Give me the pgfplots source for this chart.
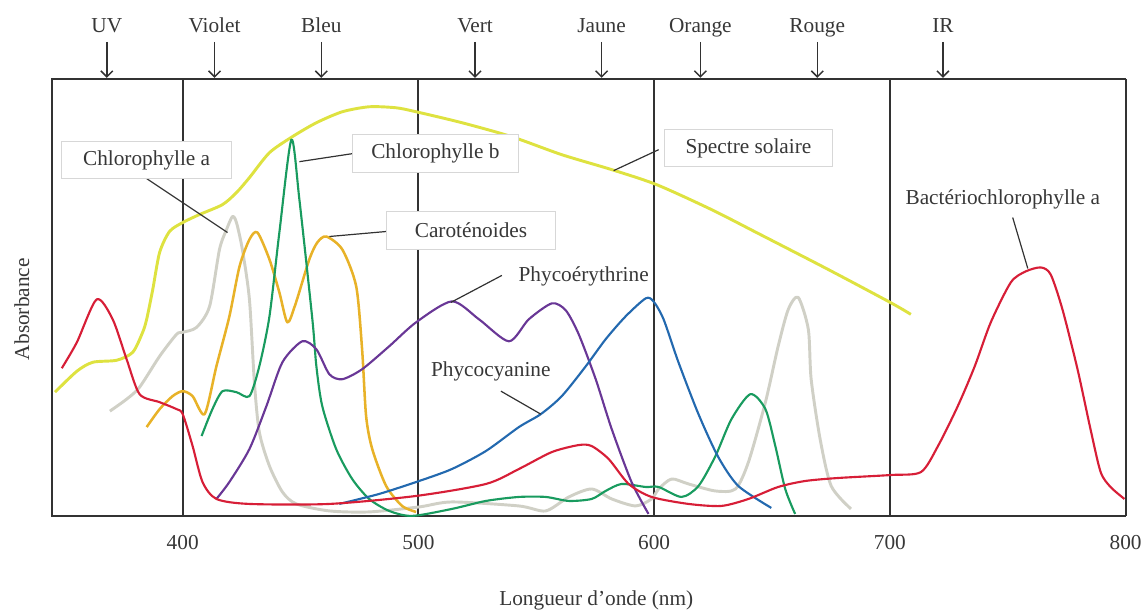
\documentclass[border=0pt]{standalone}
\usepackage{pgfplots}
\pgfplotsset{compat=1.18}
\usetikzlibrary{arrows.meta}
\usepackage{fontspec}
\setmainfont{Liberation Serif}

\definecolor{redc}{RGB}{215,30,55}
\definecolor{sunc}{RGB}{222,226,64}
\definecolor{chlac}{RGB}{208,208,198}
\definecolor{carc}{RGB}{232,178,40}
\definecolor{chlbc}{RGB}{25,155,95}
\definecolor{purc}{RGB}{105,55,150}
\definecolor{bluc}{RGB}{35,105,175}
\definecolor{txt}{RGB}{55,55,55}
\definecolor{frame}{RGB}{50,50,50}
\definecolor{boxc}{RGB}{215,215,215}

\begin{document}
\begin{tikzpicture}[font=\fontsize{16}{19}\selectfont]
\begin{axis}[
    scale only axis, width=807pt, height=328.5pt,
    xmin=344.5, xmax=800, ymin=0, ymax=438,
    xtick={400,500,600,700,800}, ytick=\empty,
    major tick length=0pt,
    xmajorgrids, grid style={frame, line width=1.5pt},
    axis line style={frame, line width=1.3pt},
    /pgf/number format/assume math mode=true,
    xticklabel style={anchor=center, yshift=-20pt, text=txt},
    xlabel={Longueur d'onde (nm)}, ylabel={Absorbance},
    xlabel style={at={(axis description cs:0.507,-0.194)}, anchor=center, text=txt},
    ylabel style={at={(axis description cs:-0.028,0.473)}, anchor=center, text=txt},
    clip=false,
    every axis plot/.append style={smooth, tension=0.45, line join=round},
]
% invisible frame of the whole picture
\path (rel axis cs:-0.04833,-0.21918) rectangle (rel axis cs:1.01673,1.18037);

% Spectre solaire
\addplot[sunc, line width=2.2pt] coordinates {
(345.8,124) (355.1,145) (361.9,154) (372.0,156) (378.8,164) (383.0,184)
(384.7,197) (387.3,227) (390.2,264) (394.4,285) (400.0,294) (407.1,302)
(416.9,312) (422.8,324) (428.3,339) (436.8,364) (446.5,380) (456.7,394)
(467.7,405) (479.1,410) (490.5,409) (499.0,405) (518.5,394) (539.6,380)
(560.8,362) (582.0,347) (601.0,332) (624.3,307) (644.2,283) (673.8,247)
(700.1,214) (708.9,202)};

% Chlorophylle a
\addplot[chlac, line width=2.2pt] coordinates {
(369.1,105) (376.2,117) (381.7,129) (390.2,160) (397.4,182) (400.0,184)
(405.9,189) (411.4,210) (415.6,267) (418.6,287) (421.1,300) (422.8,294)
(425.3,267) (428.3,217) (430.4,134) (432.5,84) (436.8,50) (442.3,24)
(448.2,12) (462.2,5) (479.1,4) (500.3,9) (514.2,14) (542.6,10) (554.0,5)
(563.8,19) (573.5,27) (582.0,17) (592.1,10) (598.9,17) (601.9,27)
(607.4,37) (614.6,32) (626.0,25) (634.5,27) (640.0,54) (647.2,114)
(652.6,170) (656.9,207) (661.1,219) (665.4,187) (666.6,137) (670.4,77)
(675.1,30) (683.5,7)};

% Carotenoides
\addplot[carc, line width=1.9pt] coordinates {
(384.7,89) (390.2,107) (395.7,120) (400.0,125) (404.2,120) (409.3,102)
(414.3,150) (419.8,200) (424.1,250) (428.3,277) (431.7,284) (436.8,257)
(441.0,224) (444.4,194) (447.8,212) (453.7,257) (457.1,274) (460.9,280)
(467.7,267) (473.6,230) (476.1,167) (477.8,100) (480.4,67) (486.3,30)
(493.1,10) (499.0,4)};

% Chlorophylle b
\addplot[chlbc, line width=1.6pt] coordinates {
(408.0,80) (412.6,107) (416.9,125) (422.8,124) (428.3,120) (432.5,150)
(436.8,200) (441.0,284) (446.1,377) (449.5,317) (455.0,197) (456.7,150)
(459.2,110) (465.1,67) (471.9,37) (479.1,17) (487.6,5) (497.3,0)
(514.2,7) (528.6,15) (542.6,19) (554.0,19) (563.8,15) (573.5,17)
(579.4,25) (586.2,32) (596.4,29) (601.9,29) (611.6,19) (618.8,30)
(626.0,60) (632.8,97) (640.8,122) (647.2,107) (651.4,70) (655.6,27)
(659.8,2)};

% Phycoerythrine
\addplot[purc, line width=1.6pt] coordinates {
(414.3,17) (419.8,34) (428.3,67) (435.5,110) (442.3,154) (450.7,175)
(456.7,167) (462.2,142) (467.7,137) (476.1,147) (487.6,170) (499.0,194)
(514.2,215) (525.7,197) (538.4,175) (546.8,197) (556.6,213) (562.5,206)
(568.0,182) (575.2,137) (582.0,87) (590.4,34) (597.6,2)};

% Phycocyanine
\addplot[bluc, line width=1.6pt] coordinates {
(466.4,12) (483.3,22) (500.3,35) (514.2,47) (528.6,65) (542.6,89)
(551.9,102) (560.8,120) (571.0,150) (579.4,177) (587.9,200) (596.4,218)
(599.7,215) (604.0,197) (610.3,154) (618.8,102) (627.2,59) (635.7,30)
(649.7,8)};

% Bacteriochlorophylle a (et absorption UV)
\addplot[redc, line width=1.6pt] coordinates {
(348.7,148) (355.1,174) (363.5,217) (370.3,197) (376.2,157) (381.7,122)
(390.2,114) (397.4,107) (400.0,102) (404.2,70) (408.4,34) (414.3,17)
(428.3,12) (462.2,12) (499.0,20) (528.6,32) (542.6,47) (556.6,64)
(568.0,71) (573.5,70) (580.7,57) (589.2,32) (598.9,19) (614.6,12)
(628.5,10) (640.0,17) (652.6,29) (664.1,35) (678.0,38) (700.5,41)
(713.2,44) (720.4,70) (728.8,110) (736.0,150) (742.8,194) (751.3,234)
(757.6,245) (764.0,249) (768.2,242) (773.2,207) (779.6,147) (785.1,87)
(789.4,44) (793.6,29) (799.5,17)};

% annotations
\begin{scope}[every node/.style={text=txt}]
\draw[frame, line width=0.9pt] (axis cs:384.7,338) -- (axis cs:419.0,284);
\draw[frame, line width=0.9pt] (axis cs:471.9,363) -- (axis cs:449.5,355);
\draw[frame, line width=0.9pt] (axis cs:486.3,285) -- (axis cs:462.2,280);
\draw[frame, line width=0.9pt] (axis cs:601.9,367) -- (axis cs:582.8,346);
\draw[frame, line width=0.9pt] (axis cs:535.4,241) -- (axis cs:513.8,214);
\draw[frame, line width=0.9pt] (axis cs:535.0,125) -- (axis cs:551.9,102);
\draw[frame, line width=0.9pt] (axis cs:752.1,299) -- (axis cs:758.5,248);

\node[draw=boxc, fill=white, line width=0.8pt, minimum width=127.5pt, minimum height=27.75pt] at (axis cs:384.7,356.5) {Chlorophylle a};
\node[draw=boxc, fill=white, line width=0.8pt, minimum width=125.25pt, minimum height=28.5pt] at (axis cs:507.2,363) {Chlorophylle b};
\node[draw=boxc, fill=white, line width=0.8pt, minimum width=127.5pt, minimum height=28.5pt] at (axis cs:522.3,286) {Caroténoides};
\node[draw=boxc, fill=white, line width=0.8pt, minimum width=126pt, minimum height=27.75pt] at (axis cs:640.0,368.5) {Spectre solaire};
\node at (axis cs:570.1,240) {Phycoérythrine};
\node at (axis cs:530.7,145) {Phycocyanine};
\node at (axis cs:747.9,317) {Bactériochlorophylle a};

% spectral bands
\foreach \xx/\lab in {367.8/UV, 413.5/Violet, 458.8/Bleu, 524.0/Vert, 577.7/Jaune, 619.6/Orange, 669.2/Rouge, 722.5/IR}{
  \edef\temp{\noexpand\draw[frame, line width=1.1pt, -{Straight Barb[length=4.5pt,width=9pt]}] (axis cs:\xx,475) -- (axis cs:\xx,439);
  \noexpand\node[anchor=base] at (axis cs:\xx,484) {\lab};}
  \temp
}
\end{scope}
\end{axis}
\end{tikzpicture}
\end{document}
